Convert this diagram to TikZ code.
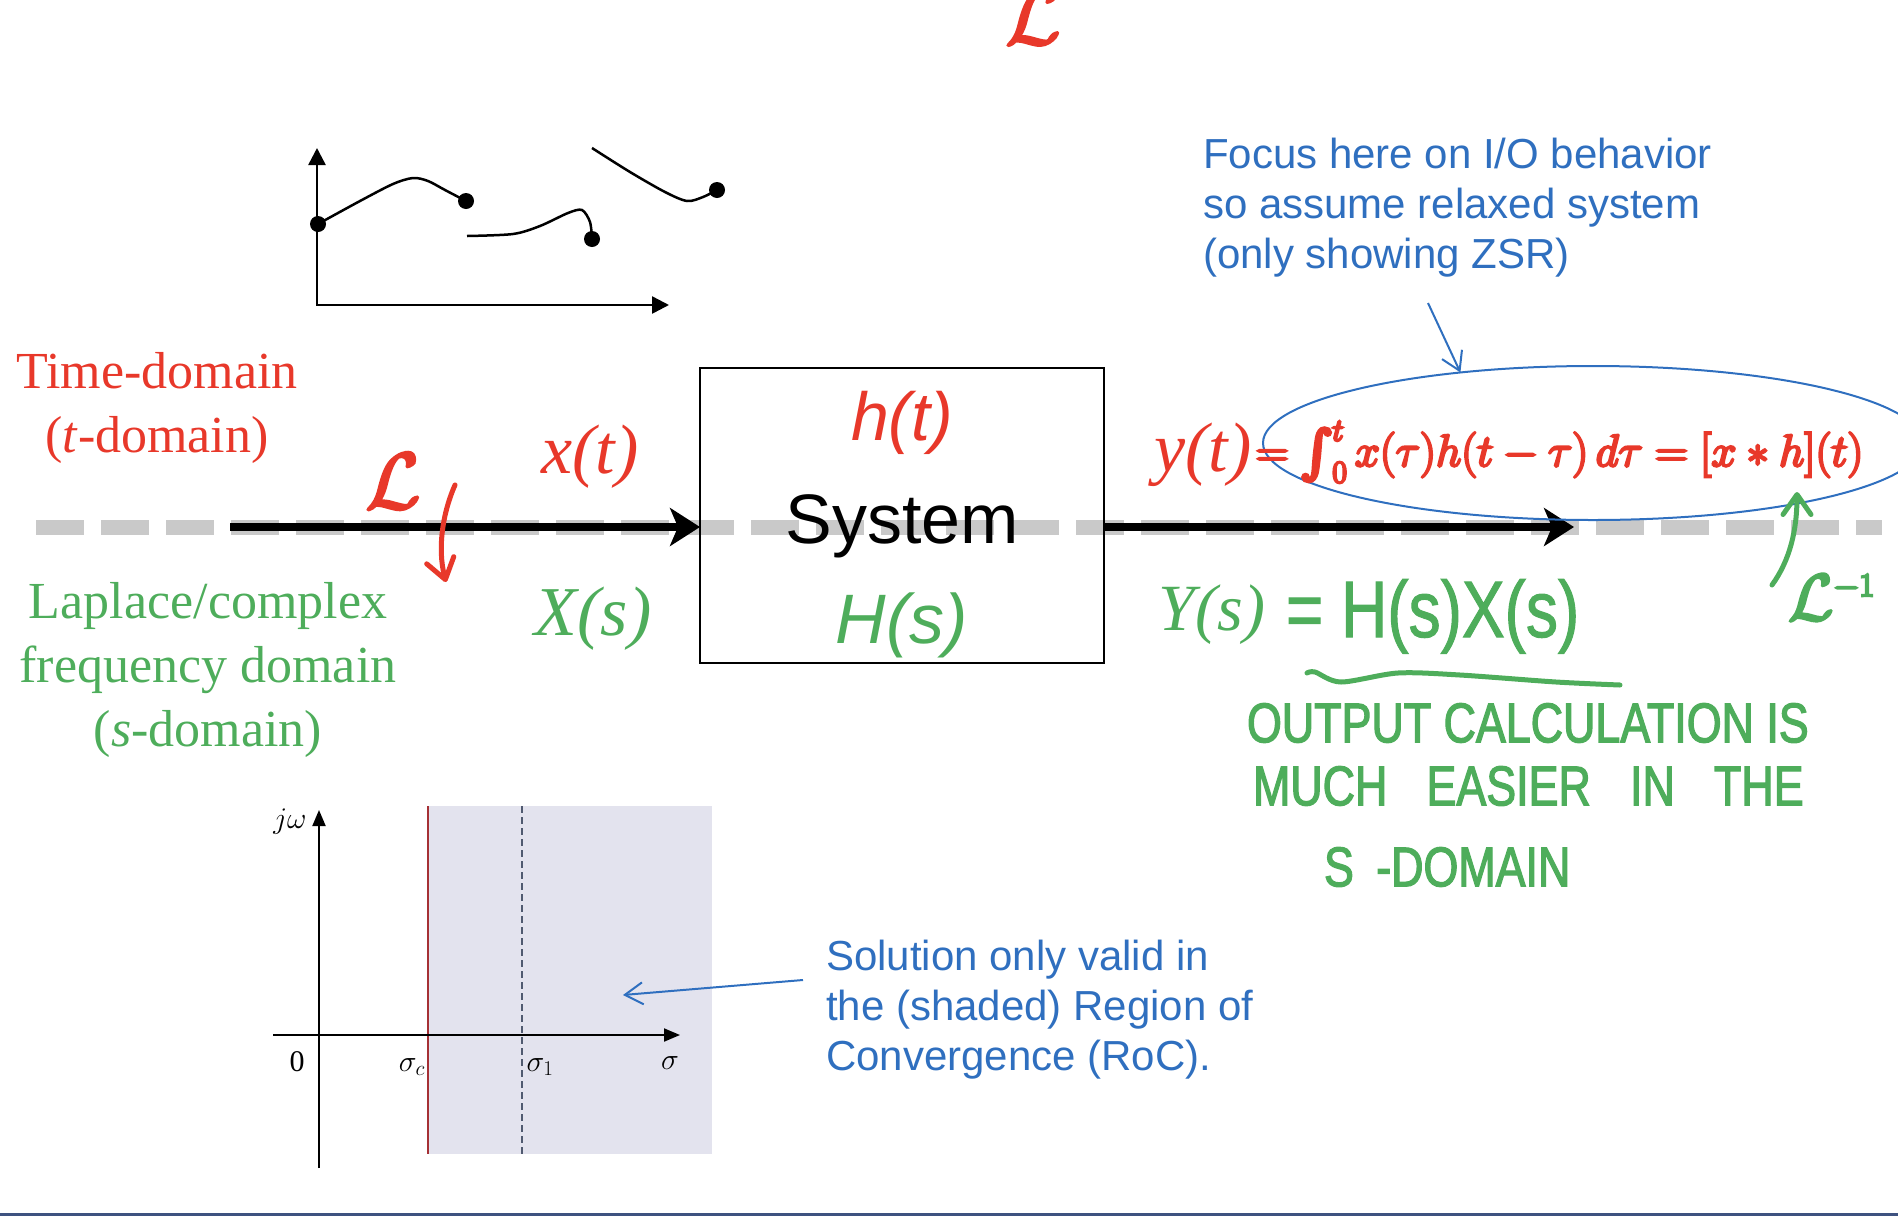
\RequirePackage{fix-cm}
\documentclass[tikz,border=0pt]{standalone}
\usepackage{exscale}
\usepackage{graphicx}
\usepackage{fontspec}
\setmainfont{Liberation Serif}
\setsansfont{Liberation Sans}
\newfontfamily\handfont[FakeStretch=0.8]{Liberation Sans}
\usetikzlibrary{arrows.meta,shapes.geometric}

% thicker strokes for the pen-written marks
\newcommand{\heavy}[2][2.4]{\special{pdf:literal direct 2 Tr #1 w}#2\special{pdf:literal direct 0 Tr}}
\newcommand{\bigint}{\mathop{\vcenter{\hbox{\scalebox{1.9}{$\int$}}}}\nolimits}
\newcommand{\convtext}{\heavy{$\displaystyle =\bigint_0^t x(\tau)h(t-\tau)\,d\tau = [x*h](t)$}}
\newcommand{\lapl}{\heavy{$\mathcal{L}$}}
\newcommand{\laplinv}{\heavy{$\mathcal{L}^{\scriptscriptstyle -1}$}}

\begin{document}
\begin{tikzpicture}[
    x=1pt, y=-1pt,
    every node/.style={inner sep=0pt, outer sep=0pt},
    sigline/.style={line width=8pt, -{Stealth[length=30pt, width=38pt, inset=8pt]}},
    callout/.style={line width=2pt, color=notecolor, -{Straight Barb[length=18pt, width=22pt]}},
    handarrow/.style={line width=5pt, line cap=round, -{Straight Barb[length=20pt, width=28pt, round]}},
    hand/.style={font=\fontsize{56}{60}\selectfont\handfont, text=tgreen, anchor=west},
    plotdot/.style={circle, fill=black, minimum size=16pt},
]

% Colors
\definecolor{tred}{HTML}{E8382A}
\definecolor{tgreen}{HTML}{4EAD5B}
\definecolor{notecolor}{HTML}{2F6FBF}
\definecolor{axisgray}{HTML}{C9C9C9}
\definecolor{rocfill}{HTML}{E3E3EE}
\definecolor{sigcred}{HTML}{A53035}
\definecolor{sigoneblue}{HTML}{505A70}
\definecolor{rulecolor}{HTML}{3E5280}

\useasboundingbox (0,0) rectangle (1898,1216);

% Y coordinates
\def\sigy{527}
\def\tplotb{305}
\def\splotax{1035}

% Dashed t/s boundary
\draw[axisgray, line width=15pt, dash pattern=on 48pt off 17pt] (36,\sigy) -- (1882,\sigy);

% System box
\node[draw, line width=2pt, minimum width=404pt, minimum height=295pt] (sys) at (902,515.5) {};
\node[font=\sffamily\itshape\fontsize{68}{70}\selectfont, text=tred, anchor=base] (ht) at (902,440) {h(t)};
\node[font=\sffamily\fontsize{70}{72}\selectfont, anchor=base] (systxt) at (902,543) {System};
\node[font=\sffamily\itshape\fontsize{70}{72}\selectfont, text=tgreen, anchor=base] (Hs) at (902,643) {H(s)};

% Input and output
\coordinate (xin) at (230,\sigy);
\coordinate (yout) at (1574,\sigy);
\draw[sigline] (xin) -- (xin -| sys.west);
\draw[sigline] (sys.east |- yout) -- (yout);

\node[font=\fontsize{70}{72}\selectfont\itshape, text=tred, anchor=base] (xt) at (590,473) {x(t)};
\node[font=\fontsize{70}{72}\selectfont\itshape, text=tgreen, anchor=base] (Xs) at (593,635) {X(s)};
\node[font=\fontsize{70}{72}\selectfont\itshape, text=tred, anchor=base] (yt) at (1203,471) {y(t)};
\node[font=\fontsize{66}{70}\selectfont\itshape, text=tgreen, anchor=base] (Ys) at (1212,630) {Y(s)};

% Domain labels
\node[font=\fontsize{52}{64}\selectfont, text=tred, align=center] (tdom) at (157,408) {Time-domain\\(\textit{t}-domain)};
\node[font=\fontsize{52}{64}\selectfont, text=tgreen, align=center] (sdom) at (208,670) {Laplace/complex\\frequency domain\\(\textit{s}-domain)};

% Time signal sketch
\draw[line width=2.5pt, {Triangle[length=17pt, width=17pt]}-{Triangle[length=17pt, width=17pt]}]
    (317,148) -- (317,\tplotb) -- (669,\tplotb);
\draw[line width=2.5pt] plot[smooth] coordinates {(318,224) (360,201) (393,184) (413,178) (428,181) (445,190) (466,201)};
\draw[line width=2.5pt] plot[smooth] coordinates {(467,236) (513,234) (540,226) (568,213) (582,210) (590,222) (592,239)};
\draw[line width=2.5pt] plot[smooth] coordinates {(592,148) (630,172) (665,192) (687,201) (703,197) (717,190)};
\node[plotdot] (d1) at (318,224) {};
\node[plotdot] (d2) at (466,201) {};
\node[plotdot] (d3) at (592,239) {};
\node[plotdot] (d4) at (717,190) {};

% s-plane with RoC
\fill[rocfill] (428,806) rectangle (712,1154);
\draw[sigcred, line width=1.5pt] (428,806) -- (428,1154);
\draw[sigoneblue, line width=1.5pt, dash pattern=on 7pt off 4pt] (522,806) -- (522,1154);
\draw[line width=2pt, -{Triangle[length=16pt, width=13pt]}] (273,\splotax) -- (680,\splotax);
\draw[line width=2pt, -{Triangle[length=16pt, width=13pt]}] (319,1168) -- (319,810);
\node[font=\fontsize{30}{32}\selectfont] (jw) at (290,822) {$j\omega$};
\node[font=\fontsize{30}{32}\selectfont] (zero) at (297,1062) {0};
\node[font=\fontsize{30}{32}\selectfont] (sigc) at (412,1067) {$\sigma_c$};
\node[font=\fontsize{30}{32}\selectfont] (sig1) at (540,1067) {$\sigma_1$};
\node[font=\fontsize{30}{32}\selectfont] (sig) at (670,1063) {$\sigma$};

% Blue notes
\node[font=\sffamily\fontsize{42}{50}\selectfont, text=notecolor, align=left, anchor=west] (focus) at (1203,208) {Focus here on I/O behavior\\so assume relaxed system\\(only showing ZSR)};
\node[font=\sffamily\fontsize{42}{50}\selectfont, text=notecolor, align=left, anchor=west] (roc) at (826,1010) {Solution only valid in\\the (shaded) Region of\\Convergence (RoC).};

\node[draw=notecolor, line width=2pt, ellipse, minimum width=660pt, minimum height=154pt] (zsr) at (1593,443) {};
\coordinate (focustail) at (1428,303);
\draw[callout] (focustail) -- (zsr.152);
\coordinate (roctail) at (803,980);
\coordinate (rochead) at (623,995);
\draw[callout] (roctail) -- (rochead);

% Handwritten notes
\node[font=\fontsize{45}{50}\selectfont, text=tred, anchor=west] (conv) at (1256,452) {\convtext};
\node[font=\fontsize{80}{84}\selectfont\handfont, text=tgreen, anchor=base west] (prod) at (1286,637) {\heavy[1]{= H(s)X(s)}};
\draw[tgreen, line width=5pt, line cap=round] plot[smooth] coordinates {(1307,673) (1315,672) (1341,682) (1398,673) (1460,675) (1556,682) (1620,685)};
\node[hand] (calc1) at (1247,723) {\heavy[1.2]{OUTPUT CALCULATION IS}};
\node[hand] (calc2) at (1253,786) {\heavy[1.2]{MUCH\hspace{0.7em}EASIER\hspace{0.7em}IN\hspace{0.7em}THE}};
\node[hand] (calc3) at (1324,867) {\heavy[1.2]{S\hspace{0.4em}-DOMAIN}};

% Transform marks
\node[font=\fontsize{80}{84}\selectfont, text=tred, anchor=south] (ltop) at (1033,44) {\lapl};
\node[font=\fontsize{80}{84}\selectfont, text=tred] (lfwd) at (393,481) {\lapl};
\coordinate (lfwda) at (455,485);
\coordinate (lfwdb) at (446,582);
\draw[tred, handarrow] (lfwda) .. controls (443,512) and (437,548) .. (lfwdb);
\node[font=\fontsize{66}{70}\selectfont, text=tgreen, anchor=base west] (linv) at (1788,620) {\laplinv};
\coordinate (linva) at (1772,585);
\coordinate (linvb) at (1797,492);
\draw[tgreen, handarrow] (linva) .. controls (1790,560) and (1797,530) .. (linvb);

% Bottom rule
\fill[rulecolor] (0,1213) rectangle (1898,1216);

\end{tikzpicture}
\end{document}
